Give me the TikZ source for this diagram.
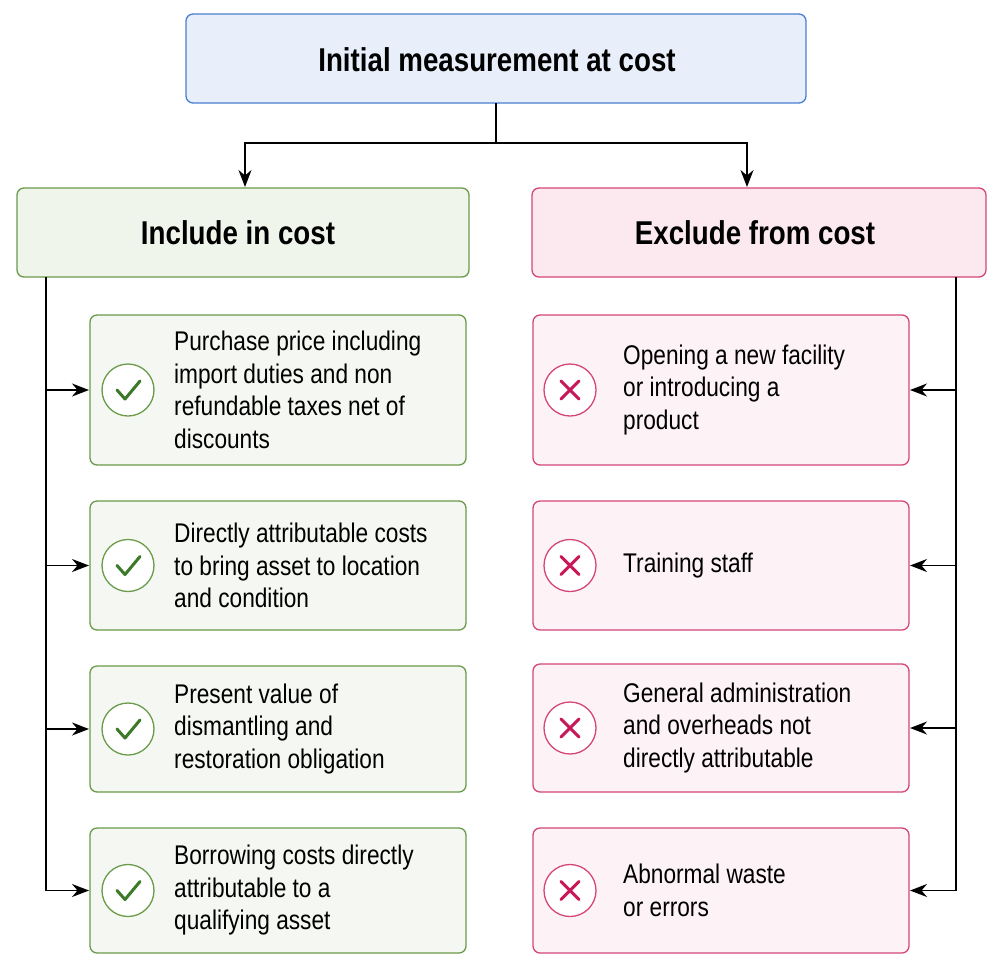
\documentclass[tikz,border=0pt]{standalone}
\usepackage{fontspec}
\setmainfont{Liberation Sans}[FakeStretch=0.84]
\usetikzlibrary{arrows.meta}
\definecolor{topf}{HTML}{E8EFFA}\definecolor{topd}{HTML}{4A7FD0}
\definecolor{gf}{HTML}{EFF5EA}\definecolor{gd}{HTML}{6A9A4A}\definecolor{gi}{HTML}{F5F8F2}
\definecolor{pf}{HTML}{FCE9EF}\definecolor{pd}{HTML}{D5457A}\definecolor{pi}{HTML}{FDF3F6}
\definecolor{ck}{HTML}{3C7A28}\definecolor{cx}{HTML}{C8185A}
\begin{document}
\begin{tikzpicture}[x=1pt,y=-1pt,
 box/.style={draw,rounded corners=7pt,line width=1.3pt},
 item/.style={font=\fontsize{27}{32.5}\selectfont,align=left,anchor=west,inner sep=0pt},
 head/.style={font=\fontsize{33}{36}\selectfont\bfseries},
 arr/.style={-{Stealth[length=17pt,width=13pt]},line width=1.6pt}]
\useasboundingbox (0,0) rectangle (1003,972);
\draw[box,fill=topf,draw=topd] (186,14) rectangle (806,103);
\node[head] (top) at (497,60) {Initial measurement at cost};
\draw[box,fill=gf,draw=gd] (17,188) rectangle (469,277);
\node[head] (inc) at (238,233) {Include in cost};
\draw[box,fill=pf,draw=pd] (532,188) rectangle (986,277);
\node[head] (exc) at (755,233) {Exclude from cost};
\coordinate (t0) at (496,103); \coordinate (t1) at (496,143);
\coordinate (tl) at (245,143); \coordinate (tr) at (747,143);
\draw[line width=1.6pt] (t0)--(t1);
\draw[arr] (t1)--(tl)--(245,187);
\draw[arr] (t1)--(tr)--(747,187);
\foreach \a/\b/\t [count=\i] in {315/465/{Purchase price including\\import duties and non\\refundable taxes net of\\discounts},501/630/{Directly attributable costs\\to bring asset to location\\and condition},666/792/{Present value of\\dismantling and\\restoration obligation},828/953/{Borrowing costs directly\\attributable to a\\qualifying asset}}{
 \pgfmathsetmacro\c{(\a+\b)/2}
 \draw[box,fill=gi,draw=gd] (90,\a) rectangle (466,\b);
 \draw[gd,line width=1.3pt,fill=white] (128,\c) circle (26);
 \draw[ck,line width=3pt,line cap=round,line join=round] (117,\c) -- (125,\c+9) -- (140,\c-9);
 \node[item] (L\i) at (174,\c) {\t};
 \draw[arr] (46,\c)--(89,\c);
}
\foreach \a/\b/\t [count=\i] in {315/465/{Opening a new facility\\or introducing a\\product},501/630/{Training staff},664/792/{General administration\\and overheads not\\directly attributable},828/953/{Abnormal waste\\or errors}}{
 \pgfmathsetmacro\c{(\a+\b)/2}
 \draw[box,fill=pi,draw=pd] (533,\a) rectangle (909,\b);
 \draw[pd,line width=1.3pt,fill=white] (570,\c) circle (26);
 \draw[cx,line width=3pt,line cap=round] (561,\c-9) -- (579,\c+9) (561,\c+9) -- (579,\c-9);
 \node[item] (R\i) at (623,\c) {\t};
 \draw[arr] (956,\c)--(910,\c);
}
\draw[line width=1.6pt] (46,277)--(46,890.5);
\draw[line width=1.6pt] (956,277)--(956,890.5);
\end{tikzpicture}
\end{document}
